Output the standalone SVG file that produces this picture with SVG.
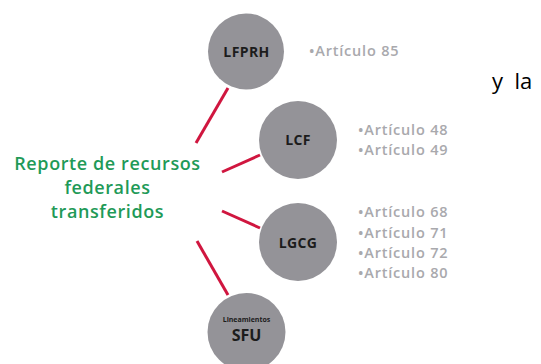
<svg xmlns="http://www.w3.org/2000/svg" width="541" height="364" viewBox="0 0 541 364">
<style>
.node{fill:#949398;}
.lbl{font-family:"Open Sans","Liberation Sans",sans-serif;font-weight:bold;fill:#1c1c1c;text-anchor:middle;}
.art{font-family:"Open Sans","Liberation Sans",sans-serif;font-weight:600;font-size:14.5px;letter-spacing:0.8px;fill:#a9a9ad;}
.con{stroke:#d0163f;stroke-width:3;fill:none;}
.title{font-family:"Open Sans","Liberation Sans",sans-serif;font-weight:600;font-size:18px;letter-spacing:0.6px;fill:#1f9a58;text-anchor:middle;}
</style>
<rect width="541" height="364" fill="#ffffff"/>
<g id="connectors">
<line class="con" x1="228" y1="88" x2="196" y2="143"/>
<line class="con" x1="222" y1="172" x2="260" y2="155"/>
<line class="con" x1="222" y1="211" x2="260" y2="228"/>
<line class="con" x1="197" y1="241" x2="228" y2="295"/>
</g>
<g id="center">
<text class="title" x="107.5" y="170">Reporte de recursos</text>
<text class="title" x="107.5" y="194">federales</text>
<text class="title" x="107.5" y="218">transferidos</text>
</g>
<g id="lfprh">
<circle class="node" cx="246" cy="51.5" r="38"/>
<text class="lbl" x="246.5" y="57" font-size="14" letter-spacing="0.4">LFPRH</text>
<text class="art" x="309" y="56">•Artículo 85</text>
</g>
<g id="lcf">
<circle class="node" cx="298" cy="140" r="39"/>
<text class="lbl" x="298" y="145" font-size="14" letter-spacing="0.4">LCF</text>
<text class="art" x="358" y="135">•Artículo 48</text>
<text class="art" x="358" y="155">•Artículo 49</text>
</g>
<g id="lgcg">
<circle class="node" cx="298" cy="242" r="39"/>
<text class="lbl" x="298" y="248" font-size="14" letter-spacing="0.4">LGCG</text>
<text class="art" x="358" y="217">•Artículo 68</text>
<text class="art" x="358" y="238">•Artículo 71</text>
<text class="art" x="358" y="258">•Artículo 72</text>
<text class="art" x="358" y="278">•Artículo 80</text>
</g>
<g id="sfu">
<circle class="node" cx="246.5" cy="332" r="39"/>
<text class="lbl" x="246.5" y="322" font-size="7" font-weight="600">Lineamientos</text>
<text class="lbl" x="246.5" y="341" font-size="16">SFU</text>
</g>
<text x="492" y="89" xml:space="preserve" font-family="'Open Sans','Liberation Sans',sans-serif" font-size="22" fill="#000000">y  la</text>
</svg>
